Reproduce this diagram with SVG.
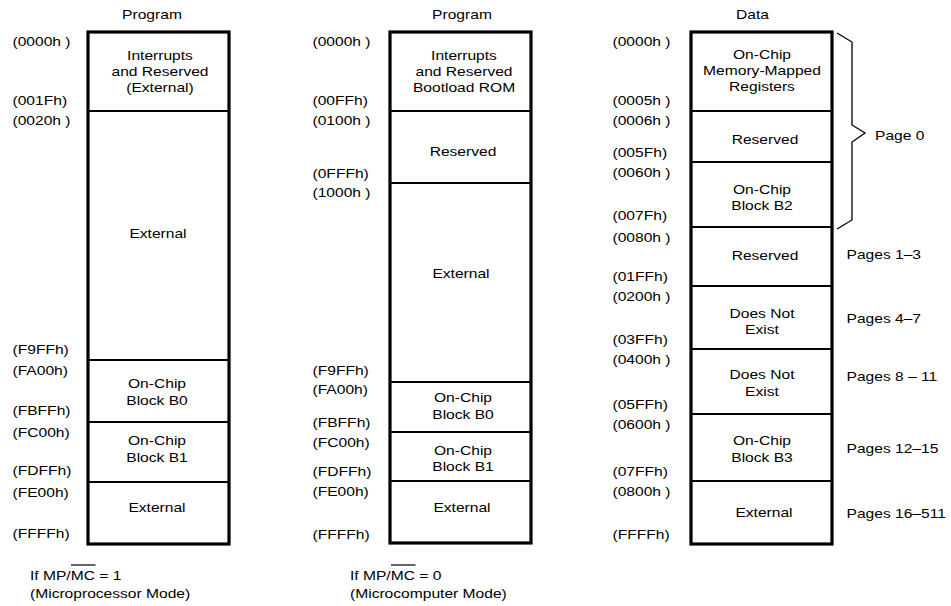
<svg xmlns="http://www.w3.org/2000/svg" width="951" height="606" viewBox="0 0 951 606">
<style>
text{font-family:"Liberation Sans",Arial,Helvetica,sans-serif;font-size:13px;fill:#000}
.c{text-anchor:middle}
.seg{fill:#fff;stroke:#000;stroke-width:2}
.frame{fill:none;stroke:#000;stroke-width:3.2}
.brace{fill:none;stroke:#000;stroke-width:1.3}
.ov{stroke:#000;stroke-width:1.2}
</style>
<rect width="951" height="606" fill="#fff"/>

<!-- Column 1 -->
<g id="col1">
<text class="c" transform="translate(152,19) scale(1.2,1)">Program</text>
<g id="c1-int"><rect class="seg" x="88" y="32" width="141" height="79"/>
<text class="c" transform="translate(160,60) scale(1.2,1)"><tspan x="0">Interrupts</tspan><tspan x="0" dy="16">and Reserved</tspan><tspan x="0" dy="16">(External)</tspan></text></g>
<g id="c1-ext"><rect class="seg" x="88" y="111" width="141" height="249"/>
<text class="c" transform="translate(158,238) scale(1.2,1)">External</text></g>
<g id="c1-b0"><rect class="seg" x="88" y="360" width="141" height="62"/>
<text class="c" transform="translate(157,388) scale(1.2,1)"><tspan x="0">On-Chip</tspan><tspan x="0" dy="17.5">Block B0</tspan></text></g>
<g id="c1-b1"><rect class="seg" x="88" y="422" width="141" height="60"/>
<text class="c" transform="translate(157,445) scale(1.2,1)"><tspan x="0">On-Chip</tspan><tspan x="0" dy="17">Block B1</tspan></text></g>
<g id="c1-ext2"><rect class="seg" x="88" y="482" width="141" height="62"/>
<text class="c" transform="translate(157,512) scale(1.2,1)">External</text></g>
<rect class="frame" x="88" y="32" width="141" height="512"/>
<g id="c1-addr">
<text transform="translate(12.5,46) scale(1.2,1)">(0000h )</text>
<text transform="translate(12.5,105) scale(1.2,1)">(001Fh)</text>
<text transform="translate(12.5,125) scale(1.2,1)">(0020h )</text>
<text transform="translate(12.5,354) scale(1.2,1)">(F9FFh)</text>
<text transform="translate(12.5,375) scale(1.2,1)">(FA00h)</text>
<text transform="translate(12.5,415) scale(1.2,1)">(FBFFh)</text>
<text transform="translate(12.5,437) scale(1.2,1)">(FC00h)</text>
<text transform="translate(12.5,475) scale(1.2,1)">(FDFFh)</text>
<text transform="translate(12.5,497) scale(1.2,1)">(FE00h)</text>
<text transform="translate(12.5,538) scale(1.2,1)">(FFFFh)</text>
</g>
<g id="c1-note">
<text transform="translate(30,580) scale(1.2,1)">If MP/MC = 1</text>
<line class="ov" x1="71" y1="565" x2="95.5" y2="565"/>
<text transform="translate(30,598) scale(1.2,1)">(Microprocessor Mode)</text>
</g>
</g>

<!-- Column 2 -->
<g id="col2">
<text class="c" transform="translate(462,19) scale(1.2,1)">Program</text>
<g id="c2-int"><rect class="seg" x="390" y="32" width="141" height="79"/>
<text class="c" transform="translate(464,60) scale(1.2,1)"><tspan x="0">Interrupts</tspan><tspan x="0" dy="16">and Reserved</tspan><tspan x="0" dy="16">Bootload ROM</tspan></text></g>
<g id="c2-res"><rect class="seg" x="390" y="111" width="141" height="72"/>
<text class="c" transform="translate(463,156) scale(1.2,1)">Reserved</text></g>
<g id="c2-ext"><rect class="seg" x="390" y="183" width="141" height="199"/>
<text class="c" transform="translate(461,278) scale(1.2,1)">External</text></g>
<g id="c2-b0"><rect class="seg" x="390" y="382" width="141" height="50"/>
<text class="c" transform="translate(463,402) scale(1.2,1)"><tspan x="0">On-Chip</tspan><tspan x="0" dy="17.5">Block B0</tspan></text></g>
<g id="c2-b1"><rect class="seg" x="390" y="432" width="141" height="49"/>
<text class="c" transform="translate(463,455) scale(1.2,1)"><tspan x="0">On-Chip</tspan><tspan x="0" dy="16.5">Block B1</tspan></text></g>
<g id="c2-ext2"><rect class="seg" x="390" y="481" width="141" height="62"/>
<text class="c" transform="translate(462,512) scale(1.2,1)">External</text></g>
<rect class="frame" x="390" y="32" width="141" height="511"/>
<g id="c2-addr">
<text transform="translate(312.5,46) scale(1.2,1)">(0000h )</text>
<text transform="translate(312.5,105) scale(1.2,1)">(00FFh)</text>
<text transform="translate(312.5,125) scale(1.2,1)">(0100h )</text>
<text transform="translate(312.5,178) scale(1.2,1)">(0FFFh)</text>
<text transform="translate(312.5,197) scale(1.2,1)">(1000h )</text>
<text transform="translate(312.5,375) scale(1.2,1)">(F9FFh)</text>
<text transform="translate(312.5,394) scale(1.2,1)">(FA00h)</text>
<text transform="translate(312.5,427) scale(1.2,1)">(FBFFh)</text>
<text transform="translate(312.5,447) scale(1.2,1)">(FC00h)</text>
<text transform="translate(312.5,476) scale(1.2,1)">(FDFFh)</text>
<text transform="translate(312.5,496) scale(1.2,1)">(FE00h)</text>
<text transform="translate(312.5,539) scale(1.2,1)">(FFFFh)</text>
</g>
<g id="c2-note">
<text transform="translate(350,580) scale(1.2,1)">If MP/MC = 0</text>
<line class="ov" x1="391" y1="565" x2="415.5" y2="565"/>
<text transform="translate(350,598) scale(1.2,1)">(Microcomputer Mode)</text>
</g>
</g>

<!-- Column 3 -->
<g id="col3">
<text class="c" transform="translate(752.5,19) scale(1.2,1)">Data</text>
<g id="c3-mmr"><rect class="seg" x="691" y="32" width="141" height="79"/>
<text class="c" transform="translate(762,58.5) scale(1.2,1)"><tspan x="0">On-Chip</tspan><tspan x="0" dy="17">Memory-Mapped</tspan><tspan x="0" dy="16">Registers</tspan></text></g>
<g id="c3-res"><rect class="seg" x="691" y="111" width="141" height="51"/>
<text class="c" transform="translate(765,143.5) scale(1.2,1)">Reserved</text></g>
<g id="c3-b2"><rect class="seg" x="691" y="162" width="141" height="65"/>
<text class="c" transform="translate(762,193.5) scale(1.2,1)"><tspan x="0">On-Chip</tspan><tspan x="0" dy="16.5">Block B2</tspan></text></g>
<g id="c3-res2"><rect class="seg" x="691" y="227" width="141" height="59"/>
<text class="c" transform="translate(765,259.5) scale(1.2,1)">Reserved</text></g>
<g id="c3-dne1"><rect class="seg" x="691" y="286" width="141" height="63"/>
<text class="c" transform="translate(762,317.5) scale(1.2,1)"><tspan x="0">Does Not</tspan><tspan x="0" dy="17">Exist</tspan></text></g>
<g id="c3-dne2"><rect class="seg" x="691" y="349" width="141" height="65"/>
<text class="c" transform="translate(762,378.5) scale(1.2,1)"><tspan x="0">Does Not</tspan><tspan x="0" dy="17.5">Exist</tspan></text></g>
<g id="c3-b3"><rect class="seg" x="691" y="414" width="141" height="67"/>
<text class="c" transform="translate(762,445) scale(1.2,1)"><tspan x="0">On-Chip</tspan><tspan x="0" dy="17.5">Block B3</tspan></text></g>
<g id="c3-ext"><rect class="seg" x="691" y="481" width="141" height="63"/>
<text class="c" transform="translate(764,517) scale(1.2,1)">External</text></g>
<rect class="frame" x="691" y="32" width="141" height="512"/>
<g id="c3-addr">
<text transform="translate(612.5,46) scale(1.2,1)">(0000h )</text>
<text transform="translate(612.5,105) scale(1.2,1)">(0005h )</text>
<text transform="translate(612.5,125) scale(1.2,1)">(0006h )</text>
<text transform="translate(612.5,157) scale(1.2,1)">(005Fh)</text>
<text transform="translate(612.5,177) scale(1.2,1)">(0060h )</text>
<text transform="translate(612.5,220) scale(1.2,1)">(007Fh)</text>
<text transform="translate(612.5,242) scale(1.2,1)">(0080h )</text>
<text transform="translate(612.5,281) scale(1.2,1)">(01FFh)</text>
<text transform="translate(612.5,301) scale(1.2,1)">(0200h )</text>
<text transform="translate(612.5,344) scale(1.2,1)">(03FFh)</text>
<text transform="translate(612.5,364) scale(1.2,1)">(0400h )</text>
<text transform="translate(612.5,409) scale(1.2,1)">(05FFh)</text>
<text transform="translate(612.5,429) scale(1.2,1)">(0600h )</text>
<text transform="translate(612.5,476) scale(1.2,1)">(07FFh)</text>
<text transform="translate(612.5,496) scale(1.2,1)">(0800h )</text>
<text transform="translate(612.5,539) scale(1.2,1)">(FFFFh)</text>
</g>
<g id="c3-pages">
<text transform="translate(875,140) scale(1.2,1)">Page 0</text>
<text transform="translate(846.5,258.5) scale(1.2,1)">Pages 1–3</text>
<text transform="translate(846.5,323) scale(1.2,1)">Pages 4–7</text>
<text transform="translate(846.5,381) scale(1.2,1)">Pages 8 – 11</text>
<text transform="translate(846.5,453) scale(1.2,1)">Pages 12–15</text>
<text transform="translate(846.5,517.5) scale(1.2,1)">Pages 16–511</text>
</g>
</g>

<g id="connectors">
<path class="brace" d="M837,33 L852,42 L852,125 L865,133 L852,142 L852,220 L837,229"/>
</g>
</svg>
